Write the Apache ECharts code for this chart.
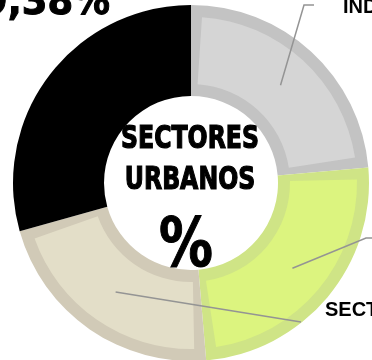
<!DOCTYPE html>
<html>
<head>
<meta charset="utf-8">
<script src="https://cdn.jsdelivr.net/npm/echarts@6/dist/echarts.min.js"></script>
<style>
  html, body { margin: 0; padding: 0; background: #ffffff; }
  #chart { width: 372px; height: 360px; }
</style>
</head>
<body>
<div id="chart"></div>
<script>
// Share of urban land by sector (percent), clockwise from 12 o'clock
const sectors = ['INDUSTRIAL', 'RESIDENCIAL', 'SECTOR SERVICIOS', 'CONSOLIDADO'];
const shares = [23.61, 25.03, 21.98, 29.38];
const centerTitle = ['SECTORES', 'URBANOS', '%'];

// Fill and rim shades for each sector
const fillColors = ['#d5d5d5', '#dcf47f', '#e3dec8', '#000000'];
const rimColors = ['#c3c3c3', '#cfe486', '#d1cab7', '#000000'];

const CX = 191, CY = 183, R_OUT = 178, R_IN = 87, RIM = 12;
const NARROW = '"Liberation Sans Narrow", "DejaVu Sans Condensed", "Liberation Sans", sans-serif';

// Where each callout goes: [bend x, bend y, end x, end y, text x, text y]
const calloutSpots = [
  [304, 5, 314, 5, 343, 7],
  [366, 238, 380, 238, 384, 238],
  [301, 322, 301, 322, 325, 310],
  null
];

function midAngle(i) {
  const total = shares.reduce((a, b) => a + b, 0);
  let acc = 0;
  for (let k = 0; k < i; k++) acc += shares[k];
  return ((acc + shares[i] / 2) / total) * 2 * Math.PI;
}

function fmtPct(v) {
  return v.toFixed(2).replace('.', ',') + '%';
}

const chart = echarts.init(document.getElementById('chart'), null, { renderer: 'canvas' });

const rimData = sectors.map((n, i) => ({
  name: n, value: shares[i], itemStyle: { color: rimColors[i] }
}));

const fillData = sectors.map((n, i) => ({
  name: n, value: shares[i], itemStyle: { color: fillColors[i] }
}));

// Transparent copy of the ring that only carries the callouts, drawn on top
const calloutData = sectors.map((n, i) => {
  const item = { name: n, value: shares[i] };
  if (i === 3) {
    item.label = {
      fontFamily: NARROW, fontWeight: 'bold', fontSize: 41, color: '#000',
      textBorderColor: '#000', textBorderWidth: 1,
      formatter: (p) => fmtPct(p.value)
    };
    item.labelLine = { show: false };
  }
  return item;
});

const ringBase = {
  type: 'pie',
  silent: true,
  center: [CX, CY],
  startAngle: 90,
  clockwise: true
};

chart.setOption({
  animation: false,
  backgroundColor: '#ffffff',
  series: [
    Object.assign({}, ringBase, {
      z: 2,
      radius: [R_IN, R_OUT],
      label: { show: false },
      labelLine: { show: false },
      data: rimData
    }),
    Object.assign({}, ringBase, {
      z: 3,
      radius: [R_IN + RIM, R_OUT - RIM],
      padAngle: 7.6,
      label: { show: false },
      labelLine: { show: false },
      data: fillData
    }),
    Object.assign({}, ringBase, {
      z: 6,
      radius: [R_IN, R_OUT],
      avoidLabelOverlap: false,
      itemStyle: { color: 'rgba(0,0,0,0)' },
      label: {
        show: true,
        position: 'outside',
        fontFamily: '"Liberation Sans", Arial, sans-serif',
        fontWeight: 'bold',
        fontSize: 20,
        color: '#000',
        formatter: '{b}'
      },
      labelLine: {
        show: true,
        length: 10,
        length2: 10,
        lineStyle: { color: '#949494', width: 1.5 }
      },
      labelLayout: function (p) {
        const i = p.dataIndex;
        if (i === 3) {
          return { x: 110, y: 3, align: 'right', verticalAlign: 'middle' };
        }
        const a = midAngle(i);
        const rm = (R_IN + R_OUT) / 2;
        const sx = CX + rm * Math.sin(a);
        const sy = CY - rm * Math.cos(a);
        const s = calloutSpots[i];
        return {
          x: s[4], y: s[5], align: 'left', verticalAlign: 'middle',
          labelLinePoints: [[sx, sy], [s[0], s[1]], [s[2], s[3]]]
        };
      },
      data: calloutData
    })
  ],
  graphic: [
    {
      type: 'text', x: 190, y: 140, scaleX: 0.82, z: 10,
      style: { text: centerTitle[0], fill: '#000', font: 'bold 32px ' + NARROW,
               stroke: '#000', lineWidth: 1.2,
               textAlign: 'center', textVerticalAlign: 'middle' }
    },
    {
      type: 'text', x: 190, y: 181, scaleX: 0.82, z: 10,
      style: { text: centerTitle[1], fill: '#000', font: 'bold 32px ' + NARROW,
               stroke: '#000', lineWidth: 1.2,
               textAlign: 'center', textVerticalAlign: 'middle' }
    },
    {
      type: 'text', x: 186, y: 248, scaleX: 0.88, z: 10,
      style: { text: centerTitle[2], fill: '#000', font: 'bold 68px ' + NARROW,
               stroke: '#000', lineWidth: 1,
               textAlign: 'center', textVerticalAlign: 'middle' }
    }
  ]
});
</script>
</body>
</html>
